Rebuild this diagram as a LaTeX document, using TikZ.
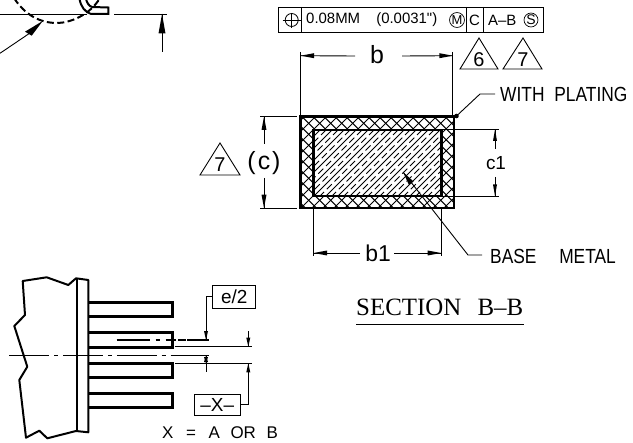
\documentclass[tikz,border=0pt]{standalone}
\usepackage{fontspec}
\setmainfont[FakeStretch=0.85]{Liberation Sans}
\newfontfamily\dimfont{Liberation Sans}
\newfontfamily\titlefont{Liberation Serif}
\newcommand{\fsize}[1]{\fontsize{#1}{#1}\selectfont}
\tikzset{
	dimline/.style={black, line width=0.9pt},
	heavyline/.style={black, line width=2.8pt},
	bodyline/.style={black, line width=2pt},
	crossline/.style={black, line width=1pt},
}
\begin{document}
\begin{tikzpicture}[x=1bp, y=1bp]
	\tikzstyle{every node}+=[inner sep=0pt]
	\clip (0,0) rectangle (633,-443);
	% detail at the top left
	\draw [dimline] (0,-14) -- (87,-14);
	\draw [dimline] (114,-14) -- (167,-14);
	\draw [dimline] (162,-14) -- (162,-52);
	\fill [black] (162,-14) -- (158.5,-33.5) -- (165.5,-33.5);
	\draw [bodyline, dash pattern=on 7pt off 3.5pt] (14,2) .. controls (25,-15) and (40,-23) .. (57,-23) .. controls (70,-23) and (90,-15) .. (100,2);
	\draw [bodyline] (79.5,1) .. controls (81,-7) and (85,-12) .. (91,-14) -- (108.3,-14) -- (108.3,-7.5) -- (92,-7) .. controls (89,-6) and (87,-3) .. (86,1);
	\draw [dimline] (0,-53.3) -- (30,-33);
	\fill [black] (42.7,-21) -- (25,-31.7) -- (31.7,-35.7);
	% feature control frame
	\draw [black, line width=0.8pt] (278,-7) rectangle (543,-32);
	\draw [black, line width=0.8pt] (301,-7) -- (301,-32);
	\draw [black, line width=0.8pt] (466,-7) -- (466,-32);
	\draw [black, line width=0.8pt] (483,-7) -- (483,-32);
	\draw [black, line width=0.8pt] (291.7,-20) circle (6.5);
	\draw [black, line width=0.8pt] (282.7,-20) -- (300.7,-20);
	\draw [black, line width=0.8pt] (291.7,-13) -- (291.7,-28);
	\node (tolvalue) [anchor=west] at (306,-20) {\dimfont\fsize{15}0.08MM\hspace{12pt} (0.0031")};
	\node (mcircle) [draw, circle, line width=0.7pt, minimum size=15pt] at (457,-20) {\dimfont\fsize{13}M};
	\node (datumc) at (474.5,-20) {\dimfont\fsize{15}C};
	\node (datumab) [anchor=west] at (488,-20) {\dimfont\fsize{15}A–B};
	\node (scircle) [draw, circle, line width=0.7pt, minimum size=14pt] at (531,-20) {\dimfont\fsize{14}S};
	% width b
	\draw [dimline] (300.7,-52) -- (300.7,-116);
	\draw [dimline] (452.7,-52) -- (452.7,-116);
	\node (bwidth) at (377,-55) {\dimfont\fsize{25}b};
	\draw [dimline] (bwidth) ++(-22,-1) -- (300.7,-55.7);
	\draw [dimline] (bwidth) ++(25,-1) -- (452.7,-55.7);
	\fill [black] (300.7,-55.7) -- (314,-53.2) -- (314,-58.2);
	\fill [black] (452.7,-55.7) -- (439.4,-53.2) -- (439.4,-58.2);
	% note triangles
	\draw [dimline] (479,-38) -- (460,-69) -- (498,-69) -- cycle;
	\node (notesix) at (479,-60) {\dimfont\fsize{20}6};
	\draw [dimline] (523,-38) -- (503,-69) -- (542,-69) -- cycle;
	\node (noteseven) at (523,-60) {\dimfont\fsize{20}7};
	\draw [dimline] (220,-143) -- (200,-175) -- (240,-175) -- cycle;
	\node (notesevenb) at (220,-165) {\dimfont\fsize{20}7};
	% plating hatch
	\begin{scope}
		\clip (300.7,-116.7) rectangle (454,-208);
		\foreach \c in {180.4,191.4,...,600} {
			\draw [crossline] (\c,-116) -- (\c+92,-208);
		}
		\foreach \c in {305,316,...,740} {
			\draw [crossline] (\c,-116) -- (\c-92,-208);
		}
	\end{scope}
	% base metal hatch
	\fill [white] (313.7,-130) rectangle (441.7,-196);
	\begin{scope}
		\clip (313.7,-130) rectangle (441.7,-196);
		\foreach \c in {320,332,...,520} {
			\draw [crossline] (\c,-130) -- (\c-66,-196);
		}
		\foreach \c in {326,338,...,520} {
			\draw [crossline, dash pattern=on 7pt off 4pt] (\c,-130) -- (\c-66,-196);
		}
	\end{scope}
	\draw [heavyline] (300.7,-116.7) rectangle (454,-208);
	\draw [heavyline] (313.7,-130) rectangle (441.7,-196);
	% thickness c
	\draw [dimline] (260,-116.7) -- (297,-116.7);
	\draw [dimline] (260,-208) -- (297,-208);
	\node (cthick) at (264,-163) {\dimfont\fsize{25}(\hspace{2pt}c\hspace{2pt})};
	\draw [dimline] (264,-116.7) -- (264,-144);
	\draw [dimline] (264,-178) -- (264,-208);
	\fill [black] (264,-116.7) -- (261.5,-130) -- (266.5,-130);
	\fill [black] (264,-208) -- (261.5,-194.7) -- (266.5,-194.7);
	% thickness c1
	\draw [dimline] (443,-129.5) -- (499,-129.5);
	\draw [dimline] (443,-196) -- (499,-196);
	\node (cone) at (496,-163) {\dimfont\fsize{19}c1};
	\draw [dimline] (495,-129.5) -- (495,-149);
	\draw [dimline] (495,-177) -- (495,-196);
	\fill [black] (495,-129.5) -- (493,-141) -- (497,-141);
	\fill [black] (495,-196) -- (493,-184.5) -- (497,-184.5);
	% width b1
	\draw [dimline] (313.7,-208) -- (313.7,-256);
	\draw [dimline] (441,-208) -- (441,-256);
	\node (bone) at (378,-253) {\dimfont\fsize{23}b1};
	\draw [dimline] (bone) ++(-18,0) -- (313.7,-253);
	\draw [dimline] (bone) ++(16,0) -- (441,-253);
	\fill [black] (313.7,-253) -- (327,-250.5) -- (327,-255.5);
	\fill [black] (441,-253) -- (427.7,-250.5) -- (427.7,-255.5);
	% leaders
	\node (plating) [anchor=west] at (500,-94) {\fsize{20.5}WITH\hspace{5pt} PLATING};
	\draw [dimline] (456.5,-116) -- (480,-94) -- (495,-94);
	\fill [black] (456.5,-116) circle (2.3);
	\node (basemetal) [anchor=west] at (490,-256) {\fsize{20.5}BASE\hspace{18pt} METAL};
	\draw [dimline] (403,-172) -- (468,-255) -- (482,-255);
	\fill [black] (403,-172) -- (413.5,-181.5) -- (409,-185);
	% section title
	\node (sectitle) [anchor=base west] at (356,-316) {\titlefont\fsize{25}SECTION\hspace{10pt} B–B};
	\draw [black, line width=1pt] (356,-324) -- (524,-324);
	% package body
	\draw [bodyline, line join=round] (22.7,-281) -- (46.7,-277.3) -- (68.3,-285) -- (76,-278.3) -- (88.3,-280) -- (88.3,-432.3) -- (76,-431) -- (47.3,-438.3) -- (39.3,-430.7) -- (26,-437.7) -- (19.3,-380) -- (27.3,-366.7) -- (14.3,-326) -- (25,-315) -- cycle;
	\draw [bodyline] (77.3,-278.3) -- (77.3,-431);
	\foreach \ytop/\ybot in {302.3/316.7, 332.3/347.3, 363.3/377.7, 393.3/407.7} {
		\draw [heavyline] (89.3,-\ytop) -- (172.7,-\ytop) -- (172.7,-\ybot) -- (89.3,-\ybot);
	}
	% centre lines
	\draw [dimline, dash pattern=on 40pt off 5pt on 4pt off 5pt] (9.3,-355.7) -- (209.3,-355.7);
	\draw [bodyline, dash pattern=on 33pt off 6pt on 4pt off 6pt on 11pt off 2pt] (116.7,-340) -- (186,-340);
	\draw [bodyline] (187,-340) -- (209.3,-340);
	% lead pitch
	\node (halfpitch) [draw, line width=0.9pt, minimum width=43pt, minimum height=23.3pt] at (234.2,-296.7) {\dimfont\fsize{19}e/2};
	\draw [dimline] (halfpitch.west) -- (206,-296.7) -- (206,-340);
	\fill [black] (206,-340) -- (204,-331) -- (208,-331);
	\draw [dimline] (175,-346.7) -- (252.3,-346.7);
	\draw [dimline] (175,-363.3) -- (252.3,-363.3);
	\draw [dimline] (206,-355.7) -- (206,-371.7);
	\fill [black] (206,-355.7) -- (204,-362) -- (208,-362);
	\fill [black] (206,-363.3) -- (204,-357) -- (208,-357);
	\node (datumx) [draw, line width=0.9pt, minimum width=45.7pt, minimum height=20.7pt] at (217.2,-404.7) {\dimfont\fsize{19}–X–};
	\draw [dimline] (248.3,-331) -- (248.3,-346.7);
	\fill [black] (248.3,-346.7) -- (246.3,-337.7) -- (250.3,-337.7);
	\draw [dimline] (datumx.east) -- (248.3,-404.7) -- (248.3,-363.3);
	\fill [black] (248.3,-363.3) -- (246.3,-372.3) -- (250.3,-372.3);
	\node (xnote) at (220,-432.3) {\dimfont\fsize{17}X\hspace{8pt} =\hspace{8pt} A\hspace{6pt} OR\hspace{6pt} B};
\end{tikzpicture}
\end{document}
